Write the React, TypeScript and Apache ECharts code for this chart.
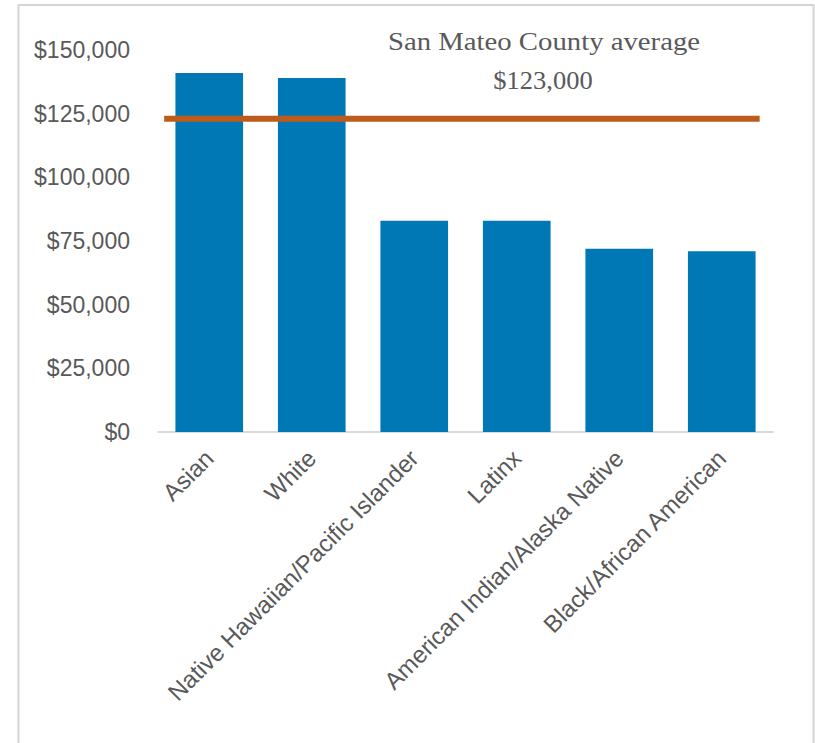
import React, { useEffect, useRef } from "react";
import * as echarts from "echarts";

const categories = [
  "Asian",
  "White",
  "Native Hawaiian/Pacific Islander",
  "Latinx",
  "American Indian/Alaska Native",
  "Black/African American",
];
const medianIncome = [141000, 139000, 83000, 83000, 72000, 71000];
const countyAverage = 123000;
const averageLabel = ["San Mateo County average", "$123,000"];
// extent of the average line in category units (category i is centred at i)
const averageLineFrom = -0.44;
const averageLineTo = 5.37;
const yMin = 0;
const yMax = 150000;
const yStep = 25000;

const fmtMoney = (v: number) => "$" + v.toLocaleString("en-US");

export default function App() {
  const ref = useRef<HTMLDivElement>(null);

  useEffect(() => {
    if (!ref.current) return;
    const chart = echarts.init(ref.current, undefined, { renderer: "svg" });
    chart.setOption({
      animation: false,
      backgroundColor: "#ffffff",
      grid: { left: 158, right: 42, top: 50, bottom: 311 },
      xAxis: [
        {
          type: "category",
          data: categories,
          axisLine: { show: true, lineStyle: { color: "#d9d9d9", width: 2 } },
          axisTick: { show: false },
          axisLabel: {
            rotate: 45,
            interval: 0,
            margin: 22,
            color: "#595959",
            fontFamily: "Liberation Sans",
            fontSize: 24,
          },
        },
        { type: "value", min: -0.5, max: 5.5, show: false },
      ],
      yAxis: {
        type: "value",
        min: yMin,
        max: yMax,
        interval: yStep,
        axisLine: { show: false },
        axisTick: { show: false },
        splitLine: { show: false },
        axisLabel: {
          margin: 28,
          color: "#595959",
          fontFamily: "Liberation Sans",
          fontSize: 23,
          formatter: (v: number) => fmtMoney(v),
        },
      },
      series: [
        {
          type: "bar",
          data: medianIncome,
          barCategoryGap: "34%",
          itemStyle: { color: "#0078b5" },
          z: 2,
        },
        {
          type: "line",
          xAxisIndex: 1,
          data: [
            [averageLineFrom, countyAverage],
            [averageLineTo, countyAverage],
          ],
          symbol: "none",
          lineStyle: { color: "#bf5b1a", width: 6 },
          z: 3,
        },
      ],
      graphic: [
        {
          type: "rect",
          shape: { x: 18.5, y: 5, width: 795, height: 800 },
          style: { fill: "none", stroke: "#d4d4d4", lineWidth: 2 },
          z: -1,
        },
        {
          type: "text",
          x: 544,
          y: 42,
          scaleX: 1.15,
          style: {
            text: averageLabel[0],
            fontFamily: "Liberation Serif",
            fontSize: 25,
            fill: "#595959",
            align: "center",
            verticalAlign: "middle",
            textAlign: "center",
            textVerticalAlign: "middle",
          },
        },
        {
          type: "text",
          x: 543,
          y: 81,
          scaleX: 1.06,
          style: {
            text: averageLabel[1],
            fontFamily: "Liberation Serif",
            fontSize: 25,
            fill: "#595959",
            align: "center",
            verticalAlign: "middle",
            textAlign: "center",
            textVerticalAlign: "middle",
          },
        },
      ],
    });
    return () => chart.dispose();
  }, []);

  return (
    <div
      ref={ref}
      style={{ position: "fixed", left: 0, top: 0, width: 815, height: 743 }}
    />
  );
}
